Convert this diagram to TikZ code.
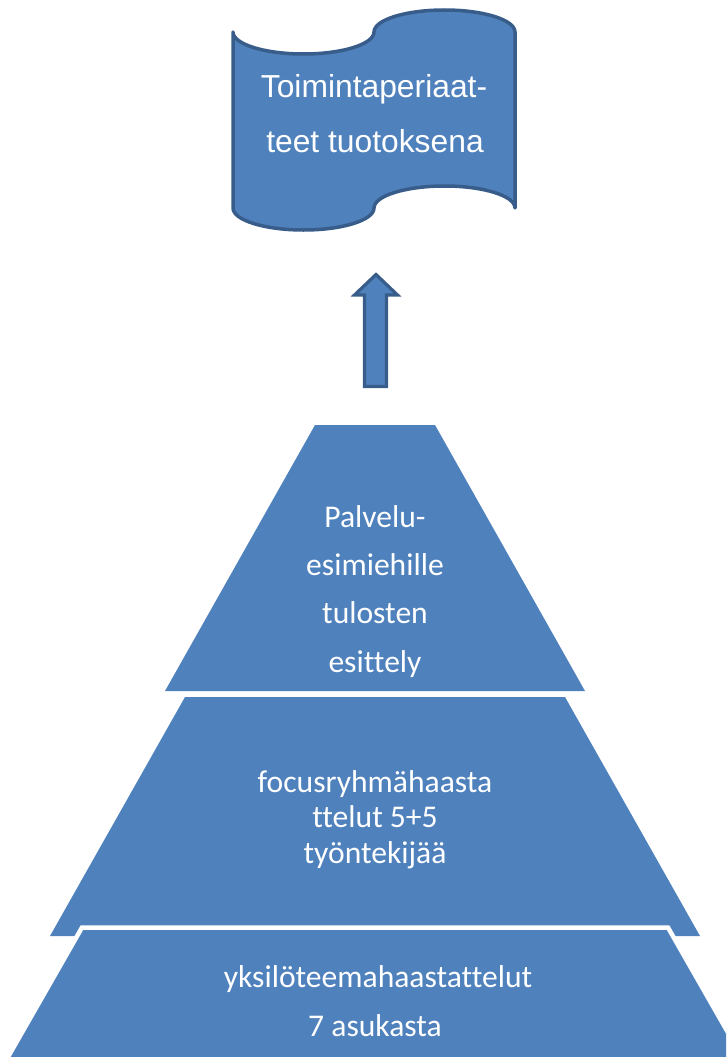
\documentclass[tikz,border=0pt]{standalone}
\usepackage{fontspec}
\setmainfont{Carlito}[Ligatures=NoCommon]
\newfontfamily\arialfont{Liberation Sans}
\definecolor{fillblue}{HTML}{4F81BD}
\definecolor{edgeblue}{HTML}{385D8A}
\tikzset{
  scrollbox/.style={fill=fillblue, draw=edgeblue, line width=3.5pt, line join=round},
  arrowbox/.style={fill=fillblue, draw=edgeblue, line width=3.2pt, line join=miter},
  tier/.style={fill=fillblue},
  tierwhite/.style={fill=fillblue, draw=white, line width=4.5pt, line join=miter},
  scrolltext/.style={text=white, anchor=base, inner sep=0pt, font=\arialfont\fontsize{31.8}{31.8}\selectfont},
  tiertext/.style={text=white, anchor=base, inner sep=0pt, font=\fontsize{31.6}{31.6}\selectfont}
}
\begin{document}
\begin{tikzpicture}[x=1pt,y=-1pt]
\useasboundingbox (0,0) rectangle (726,1057);
\clip (0,0) rectangle (726,1057);
% scroll (punched tape)
\draw[scrollbox] (233,32)
  arc[start angle=180, end angle=0, x radius=70.5, y radius=22]
  arc[start angle=180, end angle=360, x radius=70.5, y radius=22]
  -- (515,208)
  arc[start angle=0, end angle=-180, x radius=70.5, y radius=22]
  arc[start angle=0, end angle=180, x radius=70.5, y radius=22]
  -- cycle;
\node[scrolltext] (s1) at (374,97) {Toimintaperiaat-};
\node[scrolltext] (s2) at (375,152) {teet tuotoksena};
% block arrow
\draw[arrowbox] (364.5,386.5) -- (364.5,295) -- (354.5,295) -- (376,274.5) -- (397.5,295) -- (386.5,295) -- (386.5,386.5) -- cycle;
% pyramid
\path[tier] (315,425) -- (435,425) -- (585,691) -- (165,691) -- cycle;
\path[tier] (185,697) -- (565,697) -- (700,936) -- (50,936) -- cycle;
\draw[tierwhite] (82,927.5) -- (668,927.5) -- (748,1067.5) -- (2,1067.5) -- cycle;
\node[tiertext] (a1) at (375,527) {Palvelu-};
\node[tiertext] (a2) at (375,575) {esimiehille};
\node[tiertext] (a3) at (375,623) {tulosten};
\node[tiertext] (a4) at (375,672) {esittely};
\node[tiertext] (b1) at (375,792) {focusryhmähaasta};
\node[tiertext] (b2) at (375,827) {ttelut 5+5};
\node[tiertext] (b3) at (375,863) {työntekijää};
\node[tiertext] (c1) at (378,987) {yksilöteemahaastattelut};
\node[tiertext] (c2) at (375,1036) {7 asukasta};
\end{tikzpicture}
\end{document}
